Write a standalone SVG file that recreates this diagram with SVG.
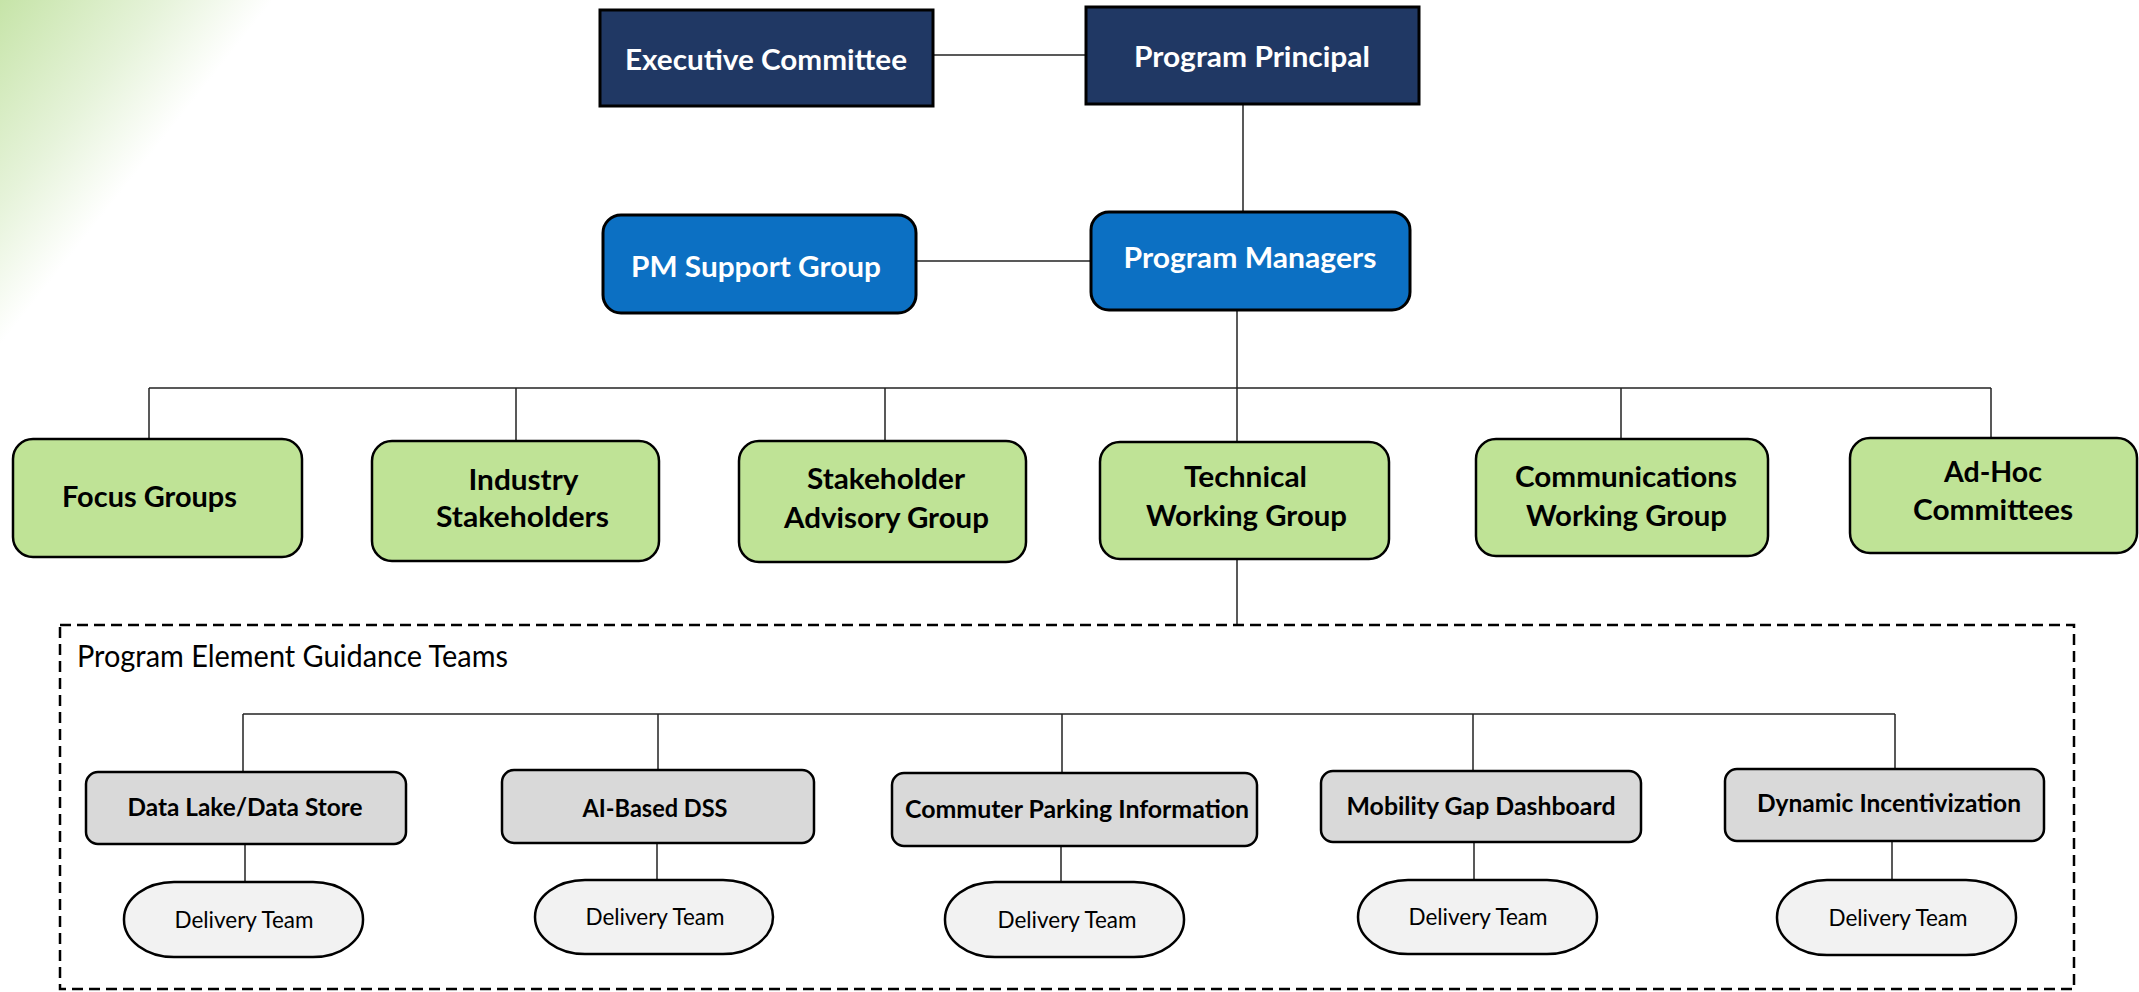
<svg xmlns="http://www.w3.org/2000/svg" width="2139" height="992" viewBox="0 0 2139 992">
<defs>
<linearGradient id="bg" gradientUnits="userSpaceOnUse" x1="0" y1="0" x2="168" y2="133">
<stop offset="0" stop-color="#c6e4a8"/>
<stop offset="0.6" stop-color="#e6f3da"/>
<stop offset="1" stop-color="#ffffff"/>
</linearGradient>
<style>
.t{font-family:Lato,"Liberation Sans",sans-serif;text-anchor:middle}
.w{fill:#ffffff;font-weight:700;font-size:28px}
.b{fill:#000000;font-weight:700;font-size:28px}
.g{fill:#000000;font-weight:700;font-size:24px}
.d{fill:#000000;font-weight:400;font-size:24px}
.navy{fill:#203864;stroke:#000;stroke-width:3}
.blue{fill:#0c70c3;stroke:#000;stroke-width:3}
.green{fill:#bfe396;stroke:#000;stroke-width:2.5}
.gray{fill:#d9d9d9;stroke:#000;stroke-width:2.5}
.pill{fill:#f2f2f2;stroke:#000;stroke-width:2.5}
.c line{stroke:#222;stroke-width:1.5}
</style>
</defs>
<rect width="2139" height="992" fill="#ffffff"/>
<polygon points="0,0 275,0 0,345" fill="url(#bg)"/>

<g id="connectors" class="c">
<line x1="933" y1="55" x2="1086" y2="55"/>
<line x1="1243" y1="104" x2="1243" y2="212"/>
<line x1="916" y1="261" x2="1091" y2="261"/>
<line x1="1237" y1="310" x2="1237" y2="388"/>
<line x1="149" y1="388" x2="1991" y2="388"/>
<line x1="149" y1="388" x2="149" y2="439"/>
<line x1="516" y1="388" x2="516" y2="441"/>
<line x1="885" y1="388" x2="885" y2="441"/>
<line x1="1237" y1="388" x2="1237" y2="442"/>
<line x1="1621" y1="388" x2="1621" y2="439"/>
<line x1="1991" y1="388" x2="1991" y2="438"/>
<line x1="1237" y1="559" x2="1237" y2="625"/>
<line x1="243" y1="714" x2="1895" y2="714"/>
<line x1="243" y1="714" x2="243" y2="772"/>
<line x1="658" y1="714" x2="658" y2="770"/>
<line x1="1062" y1="714" x2="1062" y2="773"/>
<line x1="1473" y1="714" x2="1473" y2="771"/>
<line x1="1895" y1="714" x2="1895" y2="769"/>
<line x1="245" y1="844" x2="245" y2="882"/>
<line x1="657" y1="843" x2="657" y2="880"/>
<line x1="1061" y1="846" x2="1061" y2="882"/>
<line x1="1474" y1="842" x2="1474" y2="880"/>
<line x1="1892" y1="841" x2="1892" y2="880"/>
</g>

<g id="guidance-teams">
<rect x="60" y="625" width="2014" height="364" fill="none" stroke="#000" stroke-width="2.5" stroke-dasharray="11 6"/>
<text class="t d" x="77" y="667" style="text-anchor:start;font-size:30px" textLength="431" lengthAdjust="spacingAndGlyphs">Program Element Guidance Teams</text>
</g>

<g id="executive-committee">
<rect class="navy" x="600" y="10" width="333" height="96"/>
<text class="t w" x="766" y="70" textLength="282" lengthAdjust="spacingAndGlyphs">Executive Committee</text>
</g>
<g id="program-principal">
<rect class="navy" x="1086" y="7" width="333" height="97"/>
<text class="t w" x="1252" y="67" textLength="236" lengthAdjust="spacingAndGlyphs">Program Principal</text>
</g>
<g id="pm-support-group">
<rect class="blue" x="603" y="215" width="313" height="98" rx="18"/>
<text class="t w" x="756" y="277" textLength="250" lengthAdjust="spacingAndGlyphs">PM Support Group</text>
</g>
<g id="program-managers">
<rect class="blue" x="1091" y="212" width="319" height="98" rx="18"/>
<text class="t w" x="1250" y="268" textLength="253" lengthAdjust="spacingAndGlyphs">Program Managers</text>
</g>

<g id="focus-groups">
<rect class="green" x="13" y="439" width="289" height="118" rx="20"/>
<text class="t b" x="149.5" y="507" textLength="175" lengthAdjust="spacingAndGlyphs">Focus Groups</text>
</g>
<g id="industry-stakeholders">
<rect class="green" x="372" y="441" width="287" height="120" rx="20"/>
<text class="t b" x="523.5" y="490" textLength="110" lengthAdjust="spacingAndGlyphs">Industry</text>
<text class="t b" x="522.5" y="527" textLength="173" lengthAdjust="spacingAndGlyphs">Stakeholders</text>
</g>
<g id="stakeholder-advisory-group">
<rect class="green" x="739" y="441" width="287" height="121" rx="20"/>
<text class="t b" x="886" y="489" textLength="158" lengthAdjust="spacingAndGlyphs">Stakeholder</text>
<text class="t b" x="886.5" y="528" textLength="205" lengthAdjust="spacingAndGlyphs">Advisory Group</text>
</g>
<g id="technical-working-group">
<rect class="green" x="1100" y="442" width="289" height="117" rx="20"/>
<text class="t b" x="1245.5" y="487" textLength="123" lengthAdjust="spacingAndGlyphs">Technical</text>
<text class="t b" x="1246.5" y="526" textLength="201" lengthAdjust="spacingAndGlyphs">Working Group</text>
</g>
<g id="communications-working-group">
<rect class="green" x="1476" y="439" width="292" height="117" rx="20"/>
<text class="t b" x="1626" y="487" textLength="222" lengthAdjust="spacingAndGlyphs">Communications</text>
<text class="t b" x="1626.5" y="526" textLength="201" lengthAdjust="spacingAndGlyphs">Working Group</text>
</g>
<g id="ad-hoc-committees">
<rect class="green" x="1850" y="438" width="287" height="115" rx="20"/>
<text class="t b" x="1993" y="482" textLength="98" lengthAdjust="spacingAndGlyphs">Ad-Hoc</text>
<text class="t b" x="1993" y="520" textLength="160" lengthAdjust="spacingAndGlyphs">Committees</text>
</g>

<g id="data-lake">
<rect class="gray" x="86" y="772" width="320" height="72" rx="12"/>
<text class="t g" x="245" y="816" textLength="235" lengthAdjust="spacingAndGlyphs">Data Lake/Data Store</text>
</g>
<g id="ai-based-dss">
<rect class="gray" x="502" y="770" width="312" height="73" rx="12"/>
<text class="t g" x="655" y="817" textLength="145" lengthAdjust="spacingAndGlyphs">AI-Based DSS</text>
</g>
<g id="commuter-parking">
<rect class="gray" x="892" y="773" width="365" height="73" rx="12"/>
<text class="t g" x="1077" y="818" textLength="344" lengthAdjust="spacingAndGlyphs">Commuter Parking Information</text>
</g>
<g id="mobility-gap">
<rect class="gray" x="1321" y="771" width="320" height="71" rx="12"/>
<text class="t g" x="1481" y="815" textLength="269" lengthAdjust="spacingAndGlyphs">Mobility Gap Dashboard</text>
</g>
<g id="dynamic-incentivization">
<rect class="gray" x="1725" y="769" width="319" height="72" rx="12"/>
<text class="t g" x="1889" y="812" textLength="264" lengthAdjust="spacingAndGlyphs">Dynamic Incentivization</text>
</g>

<g id="delivery-team-1">
<rect class="pill" x="124" y="882" width="239" height="75" rx="50" ry="37"/>
<text class="t d" x="244" y="928" textLength="139" lengthAdjust="spacingAndGlyphs">Delivery Team</text>
</g>
<g id="delivery-team-2">
<rect class="pill" x="535" y="880" width="238" height="74" rx="50" ry="37"/>
<text class="t d" x="655" y="925" textLength="139" lengthAdjust="spacingAndGlyphs">Delivery Team</text>
</g>
<g id="delivery-team-3">
<rect class="pill" x="945" y="882" width="239" height="75" rx="50" ry="37"/>
<text class="t d" x="1067" y="928" textLength="139" lengthAdjust="spacingAndGlyphs">Delivery Team</text>
</g>
<g id="delivery-team-4">
<rect class="pill" x="1358" y="880" width="239" height="74" rx="50" ry="37"/>
<text class="t d" x="1478" y="925" textLength="139" lengthAdjust="spacingAndGlyphs">Delivery Team</text>
</g>
<g id="delivery-team-5">
<rect class="pill" x="1777" y="880" width="239" height="75" rx="50" ry="37"/>
<text class="t d" x="1898" y="926" textLength="139" lengthAdjust="spacingAndGlyphs">Delivery Team</text>
</g>
</svg>
